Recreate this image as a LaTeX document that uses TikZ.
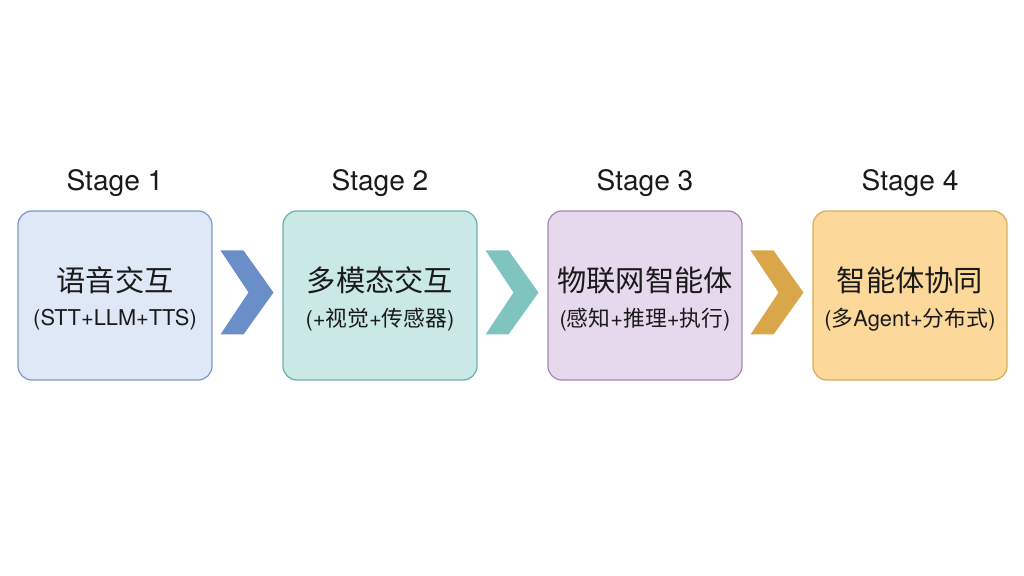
\documentclass[tikz,border=0pt]{standalone}
\usepackage{fontspec}
\setmainfont{TeX Gyre Heros}
\newfontfamily\cjk{Noto Sans CJK SC}
\newcommand{\zh}[1]{{\cjk #1}}
\usepackage{tikz}
\usetikzlibrary{positioning, calc}

\definecolor{fillA}{HTML}{DEE8F7}
\definecolor{lineA}{HTML}{7F9BCB}
\definecolor{fillB}{HTML}{CAE9E6}
\definecolor{lineB}{HTML}{6DB2AC}
\definecolor{fillC}{HTML}{E7D9ED}
\definecolor{lineC}{HTML}{A789B3}
\definecolor{fillD}{HTML}{FCD99B}
\definecolor{lineD}{HTML}{D6AE5F}
\definecolor{chevA}{HTML}{6A8FC8}
\definecolor{chevB}{HTML}{80C4C0}
\definecolor{chevC}{HTML}{D9A74A}
\definecolor{ink}{HTML}{1A1A1A}

\begin{document}
\begin{tikzpicture}[x=0.025cm, y=0.025cm,
    stagebox/.style={draw, line width=0.9pt, rounded corners=0.35cm,
        minimum width=4.85cm, minimum height=4.225cm, inner sep=0pt},
    stagelabel/.style={font=\fontsize{20}{23}\selectfont, text=ink},
    title/.style={font=\fontsize{20.8}{24}\selectfont, text=ink},
    subtitle/.style={font=\fontsize{15.5}{18}\selectfont, text=ink},
]
\useasboundingbox (0,0) rectangle (1024,576);

% Stage boxes
\node[stagebox, fill=fillA, draw=lineA] (box1) at (115,280.5) {};
\node[stagebox, fill=fillB, draw=lineB] (box2) at (380,280.5) {};
\node[stagebox, fill=fillC, draw=lineC] (box3) at (645,280.5) {};
\node[stagebox, fill=fillD, draw=lineD] (box4) at (910,280.5) {};

% Stage labels above the boxes
\node[stagelabel] (lab1) at ($(box1.center)+(0,112)$) {Stage 1};
\node[stagelabel] (lab2) at ($(box2.center)+(0,112)$) {Stage 2};
\node[stagelabel] (lab3) at ($(box3.center)+(0,112)$) {Stage 3};
\node[stagelabel] (lab4) at ($(box4.center)+(0,112)$) {Stage 4};

% Titles
\node[title] (t1) at ($(box1.center)+(0,15.5)$) {\zh{语音交互}};
\node[title] (t2) at ($(box2.center)+(0,15.5)$) {\zh{多模态交互}};
\node[title] (t3) at ($(box3.center)+(0,15.5)$) {\zh{物联网智能体}};
\node[title] (t4) at ($(box4.center)+(0,15.5)$) {\zh{智能体协同}};

% Subtitles
\node[subtitle] (d1) at ($(box1.center)+(0,-24.5)$) {(STT+LLM+TTS)};
\node[subtitle] (d2) at ($(box2.center)+(0,-24.5)$) {(+\zh{视觉}+\zh{传感器})};
\node[subtitle] (d3) at ($(box3.center)+(0,-24.5)$) {(\zh{感知}+\zh{推理}+\zh{执行})};
\node[subtitle] (d4) at ($(box4.center)+(0,-24.5)$) {(\zh{多}Agent+\zh{分布式})};

% Chevrons between the boxes
\coordinate (c1) at ($(box1.east)!0.5!(box2.west)+(0,3)$);
\coordinate (c2) at ($(box2.east)!0.5!(box3.west)+(0,3)$);
\coordinate (c3) at ($(box3.east)!0.5!(box4.west)+(0,3)$);
\fill[chevA] ($(c1)+(-27,42)$) -- ++(23,0) -- ($(c1)+(26,0)$) -- ($(c1)+(-4,-42)$) -- ++(-23,0) -- ($(c1)+(1,0)$) -- cycle;
\fill[chevB] ($(c2)+(-27,42)$) -- ++(23,0) -- ($(c2)+(26,0)$) -- ($(c2)+(-4,-42)$) -- ++(-23,0) -- ($(c2)+(1,0)$) -- cycle;
\fill[chevC] ($(c3)+(-27,42)$) -- ++(23,0) -- ($(c3)+(26,0)$) -- ($(c3)+(-4,-42)$) -- ++(-23,0) -- ($(c3)+(1,0)$) -- cycle;

\end{tikzpicture}
\end{document}
